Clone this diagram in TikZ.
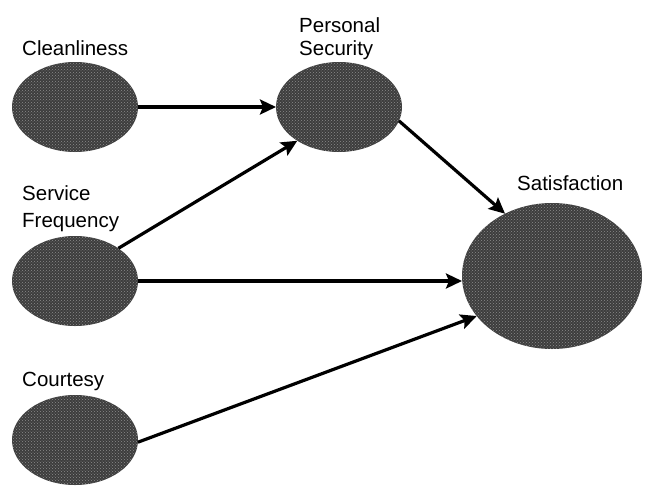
\documentclass[tikz,border=0pt]{standalone}
\usepackage{fontspec}
\setmainfont{Liberation Sans}
\usetikzlibrary{arrows.meta,shapes.geometric,patterns}
\begin{document}
\begin{tikzpicture}[x=1pt,y=-1pt,
  blob/.style={ellipse,fill=black!76,inner sep=0pt,outer sep=0pt,
    postaction={pattern=crosshatch dots,pattern color=black!45}},
  small/.style={blob,minimum width=126pt,minimum height=90pt},
  big/.style={blob,minimum width=180pt,minimum height=146pt},
  lbl/.style={anchor=north west,inner sep=0pt,align=left,font=\fontsize{20.5}{23}\selectfont},
  arr/.style={line width=3.2pt,-{Stealth[length=16pt,width=15pt,inset=3pt]}}]
\useasboundingbox (0,0) rectangle (648,485);
% ellipses
\node[small] (cl) at (75,107) {};
\node[small] (ps) at (339,107) {};
\node[small] (sf) at (75,281) {};
\node[small] (co) at (75,440) {};
\node[big] (sat) at (552,276) {};
% labels
\node[lbl] (tcl) at (22,40) {Cleanliness};
\node[lbl] (tps) at (299,17) {Personal\\Security};
\node[lbl,font=\fontsize{20.5}{27.7}\selectfont] (tsf) at (22,185) {Service\\Frequency};
\node[lbl] (tco) at (22,372) {Courtesy};
\node[lbl] (tsat) at (517,175) {Satisfaction};
% connectors
\draw[arr] (cl.east) -- (ps.west);
\draw[arr] (sf.37) -- (ps.219);
\draw[arr] (ps.-13) -- (sat.127);
\draw[arr] (sf.east) -- (sat.west |- sf.east);
\draw[arr] (co.-2) -- (sat.208);
\end{tikzpicture}
\end{document}
